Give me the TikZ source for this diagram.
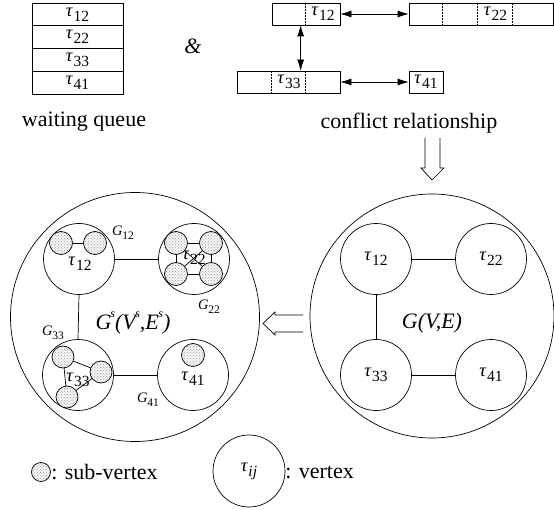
\documentclass[tikz,border=0pt]{standalone}
\usepackage{fontspec}
\setmainfont{Liberation Serif}
\usetikzlibrary{arrows.meta,patterns}
% task label: italic tau with a lowered subscript
\newcommand\tk[1]{\textit{τ}\kern0.02em\raisebox{-0.28em}{\fontsize{15.5}{15.5}\selectfont #1}}
% sub-graph label: italic G with a lowered subscript
\newcommand\gk[1]{\textit{G}\raisebox{-0.3em}{\fontsize{11.5}{11.5}\selectfont #1}}
% small raised s used in G^s(V^s,E^s)
\newcommand\ssup{\raisebox{0.55em}{\fontsize{12}{12}\selectfont\textit{s}}}
\begin{document}
\begin{tikzpicture}[x=1pt,y=-1pt,line width=0.7pt,
  lbl/.style={font=\fontsize{22}{22}\selectfont, inner sep=0},
  tlbl/.style={font=\fontsize{18.5}{18.5}\selectfont, inner sep=0},
  glbl/.style={font=\fontsize{14.5}{14.5}\selectfont, inner sep=0},
  qrow/.style={draw, minimum width=91, minimum height=22.75, inner sep=0, font=\fontsize{18.5}{18.5}\selectfont},
  cbox/.style={draw, minimum height=22, inner sep=0},
  vtx/.style={draw, circle, minimum size=71, inner sep=0, font=\fontsize{18.5}{18.5}\selectfont},
  bigv/.style={draw, circle, inner sep=0},
  subv/.style={draw, circle, minimum size=23, inner sep=0, preaction={fill=gray!8},
    pattern=crosshatch dots, pattern color=gray!75},
  biarrow/.style={{Latex[length=11pt,width=7pt]}-{Latex[length=11pt,width=7pt]}},
  hollow/.style={draw, line width=0.7pt, line join=miter}
]
\useasboundingbox (0,0) rectangle (554,510);

% ---------- waiting queue ----------
\node[qrow] (q1) at (77.5,14.4) {\tk{12}};
\node[qrow] (q2) at (77.5,37.1) {\tk{22}};
\node[qrow] (q3) at (77.5,59.9) {\tk{33}};
\node[qrow] (q4) at (77.5,82.6) {\tk{41}};
\node[lbl] (wq) at (84,122) {waiting queue};
\node[lbl] (amp) at (193,46) {\textit{\&}};

% ---------- conflict relationship ----------
\node[cbox, minimum width=68]  (c12) at (306,14) {};
\node[cbox, minimum width=144] (c22) at (481,14) {};
\node[cbox, minimum width=103] (c33) at (288.5,82) {};
\node[cbox, minimum width=34]  (c41) at (426,82) {};
\draw[densely dotted, line width=0.5pt] ([xshift=34pt]c12.north west) -- ([xshift=34pt]c12.south west);
\foreach \d in {34,69,104}
  \draw[densely dotted, line width=0.5pt] ([xshift=\d pt]c22.north west) -- ([xshift=\d pt]c22.south west);
\foreach \d in {35,69}
  \draw[densely dotted, line width=0.5pt] ([xshift=\d pt]c33.north west) -- ([xshift=\d pt]c33.south west);
\node[tlbl] (t12c) at (323,14) {\tk{12}};
\node[tlbl] (t22c) at (495.5,14) {\tk{22}};
\node[tlbl] (t33c) at (289,82) {\tk{33}};
\node[tlbl] (t41c) at (426,82) {\tk{41}};
\draw[biarrow] (c12.east) -- (c22.west);
\draw[biarrow] ([xshift=29pt]c12.south west) -- ([xshift=64pt]c33.north west);
\draw[biarrow] (c33.east) -- (c41.west);
\node[lbl] (cr) at (409,123) {conflict relationship};

% ---------- hollow arrows ----------
\draw[hollow] (425,138) -- (425,168) -- (421,168) -- (432,180) -- (444,168) -- (440,168) -- (440,138);
\draw[hollow] (303,315) -- (275,315) -- (275,312) -- (263,323.5) -- (275,335) -- (275,332) -- (303,332);

% ---------- graph G(V,E) ----------
\node[bigv, minimum size=244] (G) at (432,316) {};
\node[vtx] (r12) at (376,259) {\tk{12}};
\node[vtx] (r22) at (491,259) {\tk{22}};
\node[vtx] (r33) at (376,375) {\tk{33}};
\node[vtx] (r41) at (491,375) {\tk{41}};
\draw (r12) -- (r22);
\draw (r12) -- (r33);
\draw (r33) -- (r41);
\node[lbl] (gve) at (432,323) {\textit{G(V,E)}};

% ---------- graph G^s(V^s,E^s) ----------
\node[bigv, minimum size=249] (GS) at (135,317) {};
\node[vtx] (s12) at (79,259) {};
\node[vtx] (s22) at (194,259) {};
\node[vtx] (s33) at (78,375) {};
\node[vtx] (s41) at (193,375) {};
\draw (s12) -- (s22);
\draw (s12.south) -- (s33.north);
\draw (s33) -- (s41);
\node[lbl] (gsl) at (133,323) {\textit{G}\kern-0.05em\ssup\textit{(V}\kern-0.12em\ssup\textit{,E}\kern-0.02em\ssup\textit{)}};
\node[glbl] (g12) at (123,233) {\gk{12}};
\node[glbl] (g22) at (209,307) {\gk{22}};
\node[glbl] (g33) at (53,333) {\gk{33}};
\node[glbl] (g41) at (148,400) {\gk{41}};

% sub-vertices of G12
\coordinate (a1) at (61,243); \coordinate (a2) at (95,243);
\draw (a1) -- (a2);
\node[subv] at (a1) {}; \node[subv] at (a2) {};
% sub-vertices of G22 (complete graph)
\coordinate (b1) at (176,243); \coordinate (b2) at (211,243);
\coordinate (b3) at (176,274); \coordinate (b4) at (211,274);
\node[tlbl] (l22) at (194,258) {\tk{22}};
\draw (b1) -- (b2) -- (b4) -- (b3) -- cycle;
\draw (b1) -- (b4); \draw (b2) -- (b3);
\foreach \p in {b1,b2,b3,b4} \node[subv] at (\p) {};
% sub-vertices of G33
\coordinate (e1) at (63,357); \coordinate (e2) at (101,372); \coordinate (e3) at (67,397);
\draw (e1) -- (e2) -- (e3) -- cycle;
\foreach \p in {e1,e2,e3} \node[subv, minimum size=22] at (\p) {};
% sub-vertex of G41
\node[subv] (f1) at (193,355) {};

% vertex labels inside the sub-graphs
\node[tlbl] (l12) at (80,264) {\tk{12}};
\node[tlbl] (l33) at (78,380) {\tk{33}};
\node[tlbl] (l41) at (193,379) {\tk{41}};

% ---------- legend ----------
\node[subv, minimum size=19] (lsv) at (41,472) {};
\node[lbl, anchor=west] (lsvt) at (51,472) {: sub-vertex};
\node[vtx, minimum size=72] (lv) at (249,471) {\tk{\textit{ij}}};
\node[lbl, anchor=west] (lvt) at (285,472) {: vertex};
\end{tikzpicture}
\end{document}
